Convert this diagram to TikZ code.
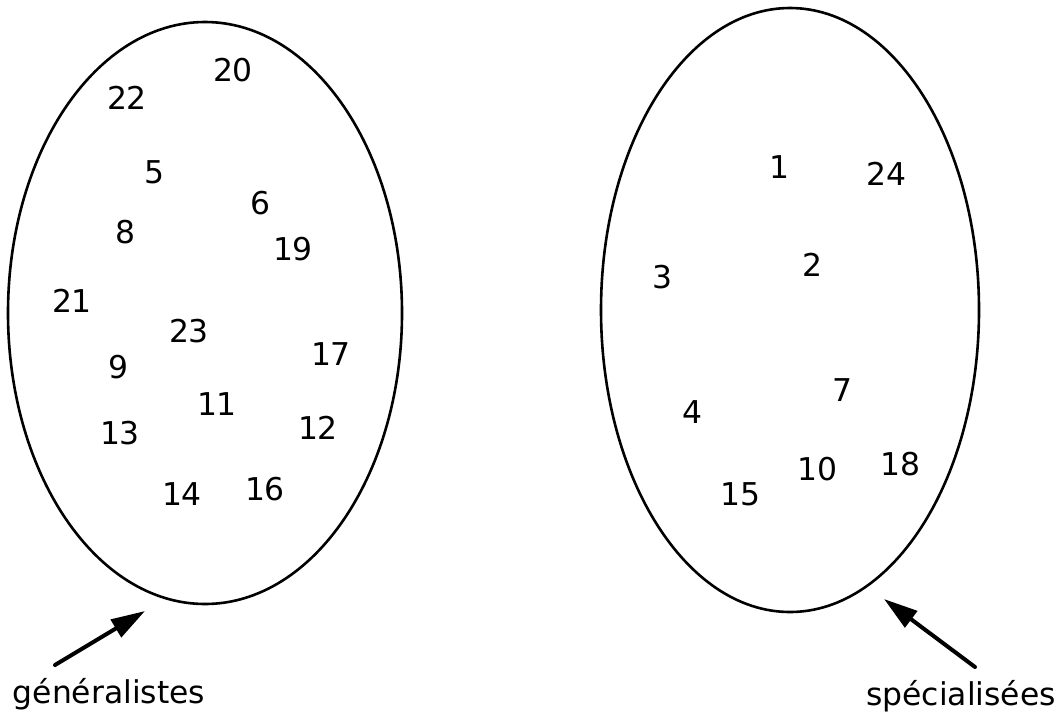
\documentclass[tikz,border=0pt]{standalone}
\usepackage{fontspec}
\setmainfont{DejaVu Sans}
\usetikzlibrary{arrows.meta,shapes.geometric}

\begin{document}
\begin{tikzpicture}[
      x=0.5pt, y=-0.5pt,
      font=\fontsize{15.7}{19}\selectfont,
      egg/.style = {draw, ellipse, line width=1.3pt, inner sep=0pt},
      num/.style = {inner sep=1pt},
      lbl/.style = {anchor=base, inner sep=0pt},
      ptr/.style = {-{Triangle[length=17pt, width=10pt]}, line width=2pt,
                    line cap=round},
    ]
    \useasboundingbox (0,0) rectangle (1058,723);

    % the two groups
    \node[egg, minimum width=197pt, minimum height=291pt] (gen) at (205,313) {};
    \node[egg, minimum width=189pt, minimum height=302pt] (spe) at (790,310) {};

    % generalists
    \node[num] (n20) at (233,70)  {20};
    \node[num] (n22) at (127,98)  {22};
    \node[num] (n5)  at (154,172) {5};
    \node[num] (n6)  at (260,203) {6};
    \node[num] (n8)  at (125,232) {8};
    \node[num] (n19) at (293,249) {19};
    \node[num] (n21) at (72,301)  {21};
    \node[num] (n23) at (189,331) {23};
    \node[num] (n9)  at (118,367) {9};
    \node[num] (n17) at (331,354) {17};
    \node[num] (n11) at (217,404) {11};
    \node[num] (n13) at (120,433) {13};
    \node[num] (n12) at (318,428) {12};
    \node[num] (n14) at (182,494) {14};
    \node[num] (n16) at (265,489) {16};

    % specialists
    \node[num] (n1)  at (779,167) {1};
    \node[num] (n24) at (886,174) {24};
    \node[num] (n3)  at (662,277) {3};
    \node[num] (n2)  at (812,265) {2};
    \node[num] (n7)  at (842,390) {7};
    \node[num] (n4)  at (692,412) {4};
    \node[num] (n10) at (817,469) {10};
    \node[num] (n18) at (900,464) {18};
    \node[num] (n15) at (740,494) {15};

    % captions
    \node[lbl] (genlbl) at (109,703) {généralistes};
    \node[lbl] (spelbl) at (961,705) {spécialisées};

    \coordinate (gtail) at (55,665);
    \coordinate (gtip)  at (145,611);
    \coordinate (stail) at (975,667);
    \coordinate (stip)  at (884,599);
    \draw[ptr] (gtail) -- (gtip);
    \draw[ptr] (stail) -- (stip);
  \end{tikzpicture}
\end{document}
